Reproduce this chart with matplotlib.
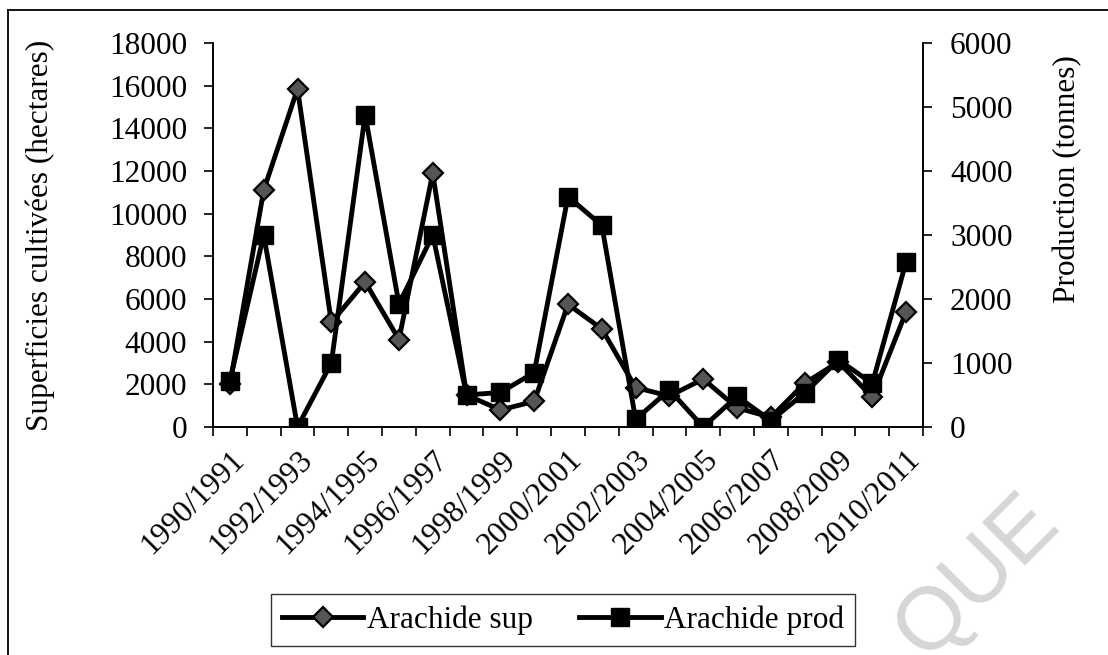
import numpy as np
import matplotlib
matplotlib.use('Agg')
import matplotlib.pyplot as plt
from matplotlib.lines import Line2D

#-- data --
campagnes = ['1990/1991', '1991/1992', '1992/1993', '1993/1994', '1994/1995',
             '1995/1996', '1996/1997', '1997/1998', '1998/1999', '1999/2000',
             '2000/2001', '2001/2002', '2002/2003', '2003/2004', '2004/2005',
             '2005/2006', '2006/2007', '2007/2008', '2008/2009', '2009/2010',
             '2010/2011']
sup = [2000, 11100, 15850, 4900, 6800, 4100, 11900, 1500, 800, 1200,
       5750, 4600, 1850, 1450, 2250, 900, 450, 2050, 3050, 1400, 5400]
prod = [720, 3000, 0, 1000, 4880, 1920, 3000, 500, 540, 850,
        3600, 3150, 120, 580, 0, 480, 100, 530, 1050, 680, 2580]

plt.rcParams['font.family'] = ['Liberation Serif', 'DejaVu Serif']
fs = 22.5

W, H = 1108, 655
fig = plt.figure(figsize=(W/100, H/100), dpi=100)

#-- frame lines of the scanned figure --
fig.add_artist(Line2D([8/W, 8/W], [0, 1-10/H], color='black', lw=1.3, transform=fig.transFigure))
fig.add_artist(Line2D([8/W, 1], [1-10/H, 1-10/H], color='black', lw=1.3, transform=fig.transFigure))

#-- watermark --
fig.text(978/W, 1-577/H, 'QUE', rotation=45, fontsize=64, color='#d6d6d6',
         family=['Liberation Sans', 'DejaVu Sans'], ha='center', va='center', zorder=0)

x = np.arange(len(campagnes))
ax1 = fig.add_axes([213/W, 1-427/H, (923-213)/W, (427-43)/H])
ax2 = ax1.twinx()

ax1.plot(x, sup, color='black', lw=3.5, marker='D', ms=10.5, mfc='#555555', mec='black', mew=1.6,
         zorder=3, label='Arachide sup')
ax2.plot(x, prod, color='black', lw=3.5, marker='s', ms=12.5, mfc='black', mec='black',
         zorder=3, label='Arachide prod')

ax1.set_xlim(-0.5, len(campagnes)-0.5)
ax1.set_ylim(0, 18000)
ax2.set_ylim(0, 6000)
ax1.set_yticks(np.arange(0, 18001, 2000))
ax2.set_yticks(np.arange(0, 6001, 1000))

#- category boundaries as tick marks, labels every other campaign -
ax1.set_xticks(np.arange(-0.5, len(campagnes), 1.0))
ax1.set_xticklabels([])
ax1.set_xticks(x[::2], minor=True)
ax1.set_xticklabels(campagnes[::2], minor=True, rotation=45, ha='right', rotation_mode='anchor',
                    fontsize=fs)
ax1.tick_params(axis='x', which='major', direction='out', length=6.5, width=1.2)
ax1.tick_params(axis='x', which='minor', length=0, pad=13)

ax1.tick_params(axis='y', direction='out', length=6.5, width=1.2, labelsize=fs, pad=12)
ax2.tick_params(axis='y', direction='out', length=6.5, width=1.2, labelsize=fs, pad=13)

for a in (ax1, ax2):
    a.spines['top'].set_visible(False)
    for s in ('left', 'right', 'bottom'):
        a.spines[s].set_linewidth(1.2)

ax1.set_ylabel('Superficies cultivées (hectares)', fontsize=fs)
ax2.set_ylabel('Production (tonnes)', fontsize=fs)
ax1.yaxis.set_label_coords((55-213)/710, 0.5)
ax2.yaxis.set_label_coords((1053-213)/710, (427-179)/384)

h1, l1 = ax1.get_legend_handles_labels()
h2, l2 = ax2.get_legend_handles_labels()
fig.legend(h1+h2, l1+l2, loc='center', bbox_to_anchor=(563/W, 1-620/H), ncol=2, fontsize=fs,
           frameon=True, fancybox=False, edgecolor='black', handlelength=2.6, handletextpad=0.1,
           columnspacing=1.5, borderpad=0.35)

fig.savefig('out.png', dpi=100)
